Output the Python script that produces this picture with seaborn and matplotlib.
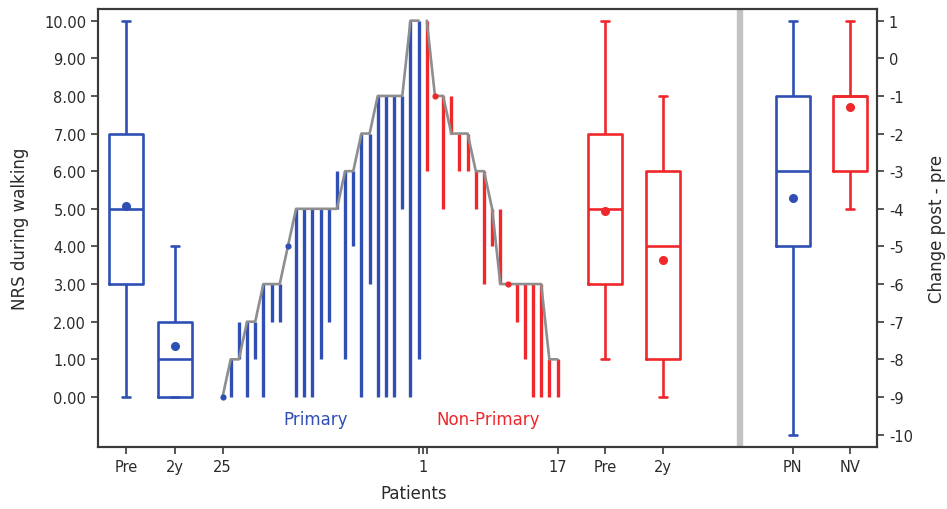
import numpy as np
import matplotlib
matplotlib.use("Agg")
import matplotlib.pyplot as plt
import seaborn as sns

# NRS during walking, primary patients (ordered by pre-operative score)
primary_pre = [0, 1, 1, 2, 2, 3, 3, 3, 4, 5, 5, 5, 5, 5, 5, 6, 6, 7, 7, 8, 8, 8, 8, 10, 10]
primary_2y = [0, 0, 2, 0, 1, 0, 2, 2, 4, 0, 0, 0, 1, 2, 6, 1, 4, 0, 3, 0, 0, 0, 5, 0, 1]
# non-primary patients (ordered by descending pre-operative score)
nonprim_pre = [10, 8, 8, 7, 7, 7, 6, 6, 5, 3, 3, 3, 3, 3, 3, 1, 1]
nonprim_2y = [6, 8, 5, 8, 6, 6, 5, 3, 4, 5, 3, 2, 1, 0, 0, 0, 0]

box_labels = ["Pre", "2y", "Pre", "2y", "PN", "NV"]
patient_labels = ["25", "1", "17"]
group_labels = ["Primary", "Non-Primary"]
left_ticks = list(range(0, 11))
right_ticks = list(range(1, -11, -1))

# change post - pre per patient
primary_change = [b - a for a, b in zip(primary_pre, primary_2y)]
nonprim_change = [b - a for a, b in zip(nonprim_pre, nonprim_2y)]

BLUE = "#2f4fb5"
RED = "#f0282c"
GREY = "#8e8e8e"
SPLIT = "#c2c2c2"
INK = "#3a3a3a"

sns.set_style("ticks")
plt.rcParams["font.family"] = ["DejaVu Sans"]
plt.rcParams["axes.unicode_minus"] = False

# horizontal layout, in units of one patient slot
x_primary = np.arange(len(primary_pre), dtype=float)
x_nonprim = len(primary_pre) + np.arange(len(nonprim_pre), dtype=float)
pos_pre_p, pos_2y_p = -11.8, -5.8
pos_pre_n, pos_2y_n = 46.8, 53.9
pos_split = 63.3
pos_pn, pos_nv = 69.8, 76.8
x_lim = (-15.24, 80.1)
y_lim = (-1.33, 10.31)
shift = 9  # right axis = left axis - 9

fig = plt.figure(figsize=(9.47, 5.10), dpi=100)
ax = fig.add_axes([98 / 947, 62 / 510, 779 / 947, 438 / 510])
ax2 = ax.twinx()


def draw_box(axis, values, pos, color):
    vals = np.asarray(values, dtype=float)
    sns.boxplot(x=np.full(len(vals), pos), y=vals, ax=axis, orient="x",
                native_scale=True, fill=False, color=color, linewidth=1.9,
                width=4.1, whis=1.3, showfliers=False, showmeans=True,
                capwidths=1.0,
                meanprops=dict(marker="o", markerfacecolor=color,
                               markeredgecolor=color, markersize=5.5))


# divider between the NRS panel and the change panel
ax.axvline(pos_split, color=SPLIT, lw=4.6, zorder=1)

# NRS boxes
draw_box(ax, primary_pre, pos_pre_p, BLUE)
draw_box(ax, primary_2y, pos_2y_p, BLUE)
draw_box(ax, nonprim_pre, pos_pre_n, RED)
draw_box(ax, nonprim_2y, pos_2y_n, RED)

# per-patient change from pre to 2y
ax.vlines(x_primary, primary_2y, primary_pre, color=BLUE, lw=2.4, zorder=2)
ax.vlines(x_nonprim, nonprim_2y, nonprim_pre, color=RED, lw=2.4, zorder=2)
same_p = np.array(primary_pre) == np.array(primary_2y)
same_n = np.array(nonprim_pre) == np.array(nonprim_2y)
sns.scatterplot(x=x_primary[same_p], y=np.array(primary_pre)[same_p], ax=ax,
                color=BLUE, s=20, linewidth=0, zorder=4)
sns.scatterplot(x=x_nonprim[same_n], y=np.array(nonprim_pre)[same_n], ax=ax,
                color=RED, s=20, linewidth=0, zorder=4)

# pre-operative profile
sns.lineplot(x=x_primary, y=primary_pre, ax=ax, color=GREY, lw=1.9, zorder=3)
sns.lineplot(x=x_nonprim, y=nonprim_pre, ax=ax, color=GREY, lw=1.9, zorder=3)

ax.text(11.4, -0.58, group_labels[0], color=BLUE, fontsize=12,
        ha="center", va="center")
ax.text(32.5, -0.58, group_labels[1], color=RED, fontsize=12,
        ha="center", va="center")

# change boxes on the right-hand axis
draw_box(ax2, primary_change, pos_pn, BLUE)
draw_box(ax2, nonprim_change, pos_nv, RED)

ax.set_xlim(*x_lim)
ax.set_ylim(*y_lim)
ax2.set_ylim(y_lim[0] - shift, y_lim[1] - shift)

xt = [pos_pre_p, pos_2y_p, x_primary[0], x_primary[-1],
      (x_primary[-1] + x_nonprim[0]) / 2, x_nonprim[0], x_nonprim[-1],
      pos_pre_n, pos_2y_n, pos_pn, pos_nv]
xl = [box_labels[0], box_labels[1], patient_labels[0], "", patient_labels[1],
      "", patient_labels[2], box_labels[2], box_labels[3], box_labels[4],
      box_labels[5]]
ax.set_xticks(xt)
ax.set_xticklabels(xl)
ax.set_yticks(left_ticks)
ax.set_yticklabels([f"{v:.2f}" for v in left_ticks])
ax2.set_yticks(right_ticks)
ax2.set_yticklabels([str(v) for v in right_ticks])

for a in (ax, ax2):
    a.set_xlabel("")
    a.set_ylabel("")
    for sp in a.spines.values():
        sp.set_visible(True)
        sp.set_color(INK)
        sp.set_linewidth(1.5)
    a.tick_params(axis="both", length=5, width=1.2, color=INK,
                  labelcolor="#2a2a2a", labelsize=10.5, pad=3.5)

fig.text(20 / 947, 1 - 229 / 510, "NRS during walking", rotation=90,
         ha="center", va="center", fontsize=12, color="#2a2a2a")
fig.text(937 / 947, 1 - 229 / 510, "Change post - pre", rotation=90,
         ha="center", va="center", fontsize=12, color="#2a2a2a")
fig.text(414 / 947, 1 - 494 / 510, "Patients", ha="center", va="center",
         fontsize=12, color="#2a2a2a")

fig.savefig("out.png", dpi=100, facecolor="white")
